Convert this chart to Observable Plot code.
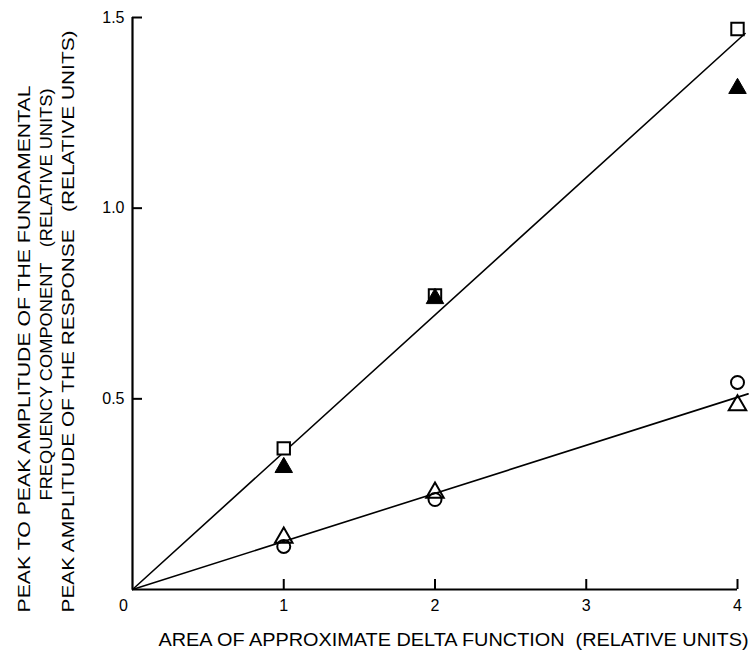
<!DOCTYPE html>
<html>
<head>
<meta charset="utf-8">
<script src="https://cdn.jsdelivr.net/npm/d3@7"></script>
<script src="https://cdn.jsdelivr.net/npm/@observablehq/plot@0.6"></script>
<style>
  body { margin: 0; background: #fff; }
  svg { display: block; }
</style>
</head>
<body>
<div id="chart"></div>
<script>
// Data
const xValues = [1, 2, 4];
const squareOpen = [0.37, 0.771, 1.47];
const triangleFilled = [0.32, 0.763, 1.314];
const circleOpen = [0.113, 0.236, 0.543];
const triangleOpen = [0.136, 0.254, 0.483];
const upperFitX = [0, 4.05];
const upperFitY = [0, 1.458];
const lowerFitX = [0, 4.07];
const lowerFitY = [0, 0.513];
const xTicks = [1, 2, 3, 4];
const xOriginLabel = [0];
const yTicks = [0.5, 1.0, 1.5];
const xTitle = "AREA OF APPROXIMATE DELTA FUNCTION\u00a0\u00a0(RELATIVE UNITS)";
const yTitle1 = "PEAK TO PEAK AMPLITUDE OF THE FUNDAMENTAL";
const yTitle2 = "FREQUENCY COMPONENT\u00a0\u00a0\u00a0(RELATIVE UNITS)";
const yTitle3 = "PEAK AMPLITUDE OF THE RESPONSE\u00a0\u00a0\u00a0(RELATIVE UNITS)";

const pts = (ys) => xValues.map((x, i) => ({x, y: ys[i]}));
const fit = (xs, ys) => xs.map((x, i) => ({x, y: ys[i]}));

const W = 750, H = 658, mL = 132, mR = 13, mT = 17, mB = 69;
const frameW = W - mL - mR, frameH = H - mT - mB;
const font = "Liberation Sans, Arial, sans-serif";

const chart = Plot.plot({
  width: W,
  height: H,
  marginLeft: mL,
  marginRight: mR,
  marginTop: mT,
  marginBottom: mB,
  style: {fontFamily: font, background: "#fff", color: "#000"},
  x: {domain: [0, 4], axis: null},
  y: {domain: [0, 1.5], axis: null},
  marks: [
    // axes lines
    Plot.ruleX([0], {y1: 0, y2: 1.5, stroke: "#000", strokeWidth: 2.2}),
    Plot.ruleY([0], {x1: 0, x2: 4, stroke: "#000", strokeWidth: 2.2}),
    // inward tick marks
    Plot.tickY(yTicks, {y: d => d, insetRight: frameW - 10, stroke: "#000", strokeWidth: 2}),
    Plot.tickX(xTicks, {x: d => d, insetTop: frameH - 10, stroke: "#000", strokeWidth: 2}),
    // tick labels
    Plot.text(yTicks, {x: 0, y: d => d, text: d => d.toFixed(1), textAnchor: "end", dx: -8, fontSize: 16, fill: "#000"}),
    Plot.text(xTicks, {x: d => d, y: 0, text: d => String(d), dy: 16, fontSize: 16, fill: "#000"}),
    Plot.text(xOriginLabel, {x: d => d, y: 0, text: d => String(d), dy: 16, dx: -9, fontSize: 16, fill: "#000"}),
    // fit lines
    Plot.line(fit(upperFitX, upperFitY), {x: "x", y: "y", stroke: "#000", strokeWidth: 1.6}),
    Plot.line(fit(lowerFitX, lowerFitY), {x: "x", y: "y", stroke: "#000", strokeWidth: 1.6}),
    // data points
    Plot.dot(pts(squareOpen), {x: "x", y: "y", symbol: "square", r: 7, stroke: "#000", strokeWidth: 2, fill: "#fff"}),
    Plot.dot(pts(triangleFilled), {x: "x", y: "y", symbol: "triangle", r: 6.5, fill: "#000", stroke: "#000", strokeWidth: 1}),
    Plot.dot(pts(circleOpen), {x: "x", y: "y", symbol: "circle", r: 6.5, stroke: "#000", strokeWidth: 2, fill: "none"}),
    Plot.dot(pts(triangleOpen), {x: "x", y: "y", symbol: "triangle", r: 6.5, stroke: "#000", strokeWidth: 2, fill: "none"}),
    // axis titles
    Plot.text([xTitle], {frameAnchor: "bottom-left", text: d => d, textAnchor: "start", dx: 26, dy: 56, fontSize: 18, fill: "#000"}),
    Plot.text([yTitle1], {frameAnchor: "top-left", text: d => d, rotate: -90, textAnchor: "end", dx: -114, dy: 68, fontSize: 16, fill: "#000"}),
    Plot.text([yTitle2], {frameAnchor: "top-left", text: d => d, rotate: -90, textAnchor: "end", dx: -92, dy: 71, fontSize: 16, fill: "#000"}),
    Plot.text([yTitle3], {frameAnchor: "top-left", text: d => d, rotate: -90, textAnchor: "end", dx: -70, dy: 13, fontSize: 16, fill: "#000"})
  ]
});

document.getElementById("chart").appendChild(chart);

// stretch titles to the reference lengths
const lengths = new Map([[xTitle, 590], [yTitle1, 527], [yTitle2, 412], [yTitle3, 582]]);
d3.select(chart).selectAll("text").each(function () {
  const t = this.textContent;
  if (lengths.has(t)) {
    d3.select(this).attr("textLength", lengths.get(t)).attr("lengthAdjust", "spacingAndGlyphs");
  }
});
</script>
</body>
</html>
